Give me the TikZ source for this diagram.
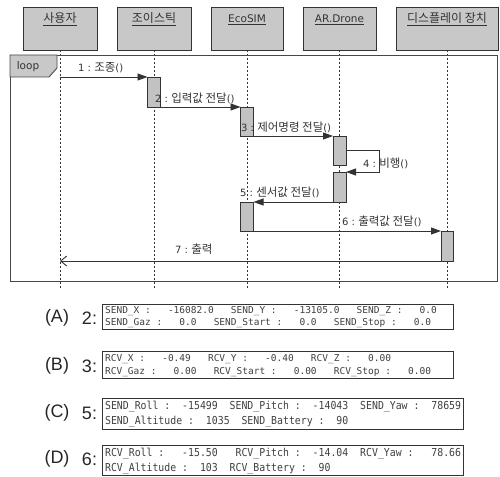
\documentclass[tikz,border=0pt]{standalone}
\usepackage{fontspec}
\setmainfont{DejaVu Sans}
\newfontfamily\krfont{Noto Sans CJK KR}
\newfontfamily\monoA{DejaVu Sans Mono}
\newfontfamily\monoC[FakeStretch=0.9]{DejaVu Sans Mono}
\newfontfamily\labfont{Liberation Sans}
\newcommand{\kor}[1]{{\krfont\fontsize{11.5}{12}\selectfont #1}}
\newcommand{\ms}{\hphantom{0}}
\newcommand{\mss}{\ms\ms}
\newcommand{\msss}{\ms\ms\ms}
\usetikzlibrary{arrows.meta}
\definecolor{boxgray}{HTML}{C8C8C8}
\definecolor{actgray}{HTML}{C2C2C2}
\definecolor{ink}{HTML}{333333}
\definecolor{dat}{HTML}{404040}
\frenchspacing
\begin{document}
\begin{tikzpicture}[x=1pt,y=-1pt,
  hdr/.style={draw=ink, fill=boxgray, line width=0.9pt, minimum height=43pt, inner sep=0pt, outer sep=0pt},
  hdrtxt/.style={font=\fontsize{10.5}{12}\selectfont, text=ink, inner sep=0pt},
  life/.style={draw=ink, line width=0.9pt, dash pattern=on 2pt off 2pt},
  act/.style={draw=ink, fill=actgray, line width=0.8pt, minimum width=13pt, inner sep=0pt, outer sep=0pt},
  frame/.style={draw=ink!90, line width=0.9pt, inner sep=0pt, outer sep=0pt, minimum width=487pt, minimum height=226pt},
  msg/.style={draw=ink, line width=0.9pt, -{Triangle[length=10pt,width=7pt]}},
  ret/.style={draw=ink, line width=0.9pt, -{Straight Barb[length=6pt,width=10pt]}},
  lbl/.style={font=\fontsize{10}{12}\selectfont, text=ink, inner sep=0pt, anchor=west},
  datbox/.style={draw=ink, line width=1.2pt, fill=white, inner xsep=2.5pt, inner ysep=0pt, align=left, anchor=north west, text=dat},
  big/.style={font=\labfont\fontsize{18}{20}\selectfont, text=black!85, inner sep=0pt}
]
\useasboundingbox (0,0) rectangle (500,476);

% headers
\node[hdr, minimum width=74pt] (h1) at (60,28.5) {};
\node[hdr, minimum width=74pt] (h2) at (154,28.5) {};
\node[hdr, minimum width=72pt] (h3) at (247,28.5) {};
\node[hdr, minimum width=73pt] (h4) at (339.5,28.5) {};
\node[hdr, minimum width=102pt] (h5) at (447,28.5) {};
\node[hdrtxt] (t1) at (60,19.5) {\underline{\krfont\fontsize{12}{12}\selectfont 사용자}};
\node[hdrtxt] (t2) at (154,19.5) {\underline{\krfont\fontsize{12}{12}\selectfont 조이스틱}};
\node[hdrtxt] (t3) at (247,19.5) {\underline{EcoSIM}};
\node[hdrtxt] (t4) at (339.5,19.5) {\underline{AR.Drone}};
\node[hdrtxt] (t5) at (447,19.5) {\underline{\krfont\fontsize{12}{12}\selectfont 디스플레이 장치}};

% lifeline ends
\coordinate (e1) at (60,288);
\coordinate (e2) at (154,288);
\coordinate (e3) at (247,288);
\coordinate (e4) at (339.5,288);
\coordinate (e5) at (447,288);
\draw[life] (h1.south) -- (e1);
\draw[life] (h2.south) -- (e2);
\draw[life] (h3.south) -- (e3);
\draw[life] (h4.south) -- (e4);
\draw[life] (h5.south) -- (e5);

% loop frame
\node[frame] (fr) at (253.5,168) {};
\draw[draw=ink!90, fill=boxgray, line width=0.9pt] (fr.north west) -- ++(47,0) -- ++(0,13) -- ++(-8,9) -- ++(-39,0) -- cycle;
\node[font=\fontsize{10.5}{12}\selectfont, text=ink, inner sep=0pt] (lp) at (28,66.5) {loop};

% activations
\node[act, minimum height=30pt] (a1) at (154,92) {};
\node[act, minimum height=29pt] (a2) at (247,121.5) {};
\node[act, minimum height=29pt] (a3) at (339.5,150.5) {};
\node[act, minimum height=30pt] (a4) at (339.5,187) {};
\node[act, minimum height=29pt] (a5) at (247,216.5) {};
\node[act, minimum height=30pt, minimum width=12pt] (a6) at (447,246) {};
\coordinate (c4) at (379,150.5);

% messages
\draw[msg] (h1.south |- a1.north west) -- (a1.north west);
\draw[msg] (a1.south east) -- (a2.north west);
\draw[msg] (a2.south east) -- (a3.north west);
\draw[msg] (a3.east) -- (c4) |- (a4.north east);
\draw[msg] (a4.south west) -- (a5.north east);
\draw[msg] (a5.south east) -- (a6.north west);
\draw[ret] (a6.south west) -- (h1.south |- a6.south west);

% message labels
\node[lbl] (m1) at (78,68) {1 : \kor{조종}()};
\node[lbl] (m2) at (155,98) {2 : \kor{입력값 전달}()};
\node[lbl] (m3) at (241,127) {3 : \kor{제어명령 전달}()};
\node[lbl] (m4) at (363,163) {4 : \kor{비행}()};
\node[lbl] (m5) at (240,192) {5 : \kor{센서값 전달}()};
\node[lbl] (m6) at (342,221) {6 : \kor{출력값 전달}()};
\node[lbl] (m7) at (175,249) {7 : \kor{출력}};

% data boxes
\node[datbox, text width=346pt, minimum height=25pt, font=\monoA\fontsize{9.5}{12}\selectfont] (bA) at (102,304)
 {SEND\_X\ms:\msss-16082.0\msss SEND\_Y\ms:\msss-13105.0\msss SEND\_Z\ms:\msss0.0\\
  SEND\_Gaz\ms:\msss0.0\msss SEND\_Start\ms:\msss0.0\msss SEND\_Stop\ms:\msss0.0};
\node[datbox, text width=346pt, minimum height=27pt, font=\monoA\fontsize{9.5}{13}\selectfont] (bB) at (102,351)
 {RCV\_X\ms:\msss-0.49\msss RCV\_Y\ms:\msss-0.40\msss RCV\_Z\ms:\msss0.00\\
  RCV\_Gaz\ms:\msss0.00\msss RCV\_Start\ms:\msss0.00\msss RCV\_Stop\ms:\msss0.00};
\node[datbox, text width=356pt, minimum height=31pt, font=\monoC\fontsize{10.95}{15}\selectfont] (bC) at (102,398)
 {SEND\_Roll\ms:\mss-15499\mss SEND\_Pitch\ms:\mss-14043\mss SEND\_Yaw\ms:\mss78659\\
  SEND\_Altitude\ms:\mss1035\mss SEND\_Battery\ms:\mss90};
\node[datbox, text width=356pt, minimum height=30pt, font=\monoC\fontsize{10.95}{15}\selectfont] (bD) at (102,445)
 {RCV\_Roll\ms:\msss-15.50\msss RCV\_Pitch\ms:\mss-14.04\mss RCV\_Yaw\ms:\msss78.66\\
  RCV\_Altitude\ms:\mss103\mss RCV\_Battery\ms:\mss90};

% left labels
\node[big] (LA) at (57,318) {(A)};
\node[big] (NA) at (89.5,318) {2:};
\node[big] (LB) at (57,366) {(B)};
\node[big] (NB) at (89.5,366) {3:};
\node[big] (LC) at (57,413) {(C)};
\node[big] (NC) at (89.5,413) {5:};
\node[big] (LD) at (57,459) {(D)};
\node[big] (ND) at (89.5,459) {6:};
\end{tikzpicture}
\end{document}
